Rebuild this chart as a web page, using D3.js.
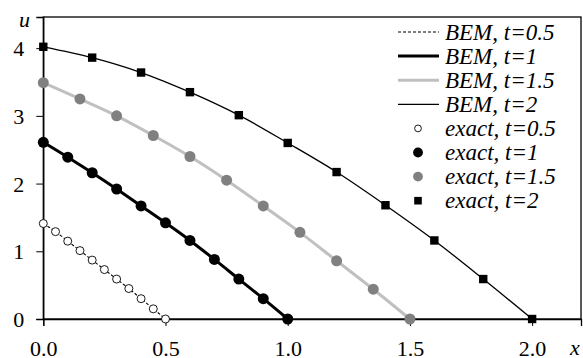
<!DOCTYPE html>
<html>
<head>
<meta charset="utf-8">
<script src="https://cdn.jsdelivr.net/npm/d3@7"></script>
<style>
  html, body { margin: 0; padding: 0; background: #fff; }
  svg { display: block; }
  svg text { font-family: Liberation Serif !important; }
</style>
</head>
<body>
<svg id="chart" width="583" height="358"></svg>
<script>
// exact solution samples
const x05 = [0, 0.05, 0.1, 0.15, 0.2, 0.25, 0.3, 0.35, 0.4, 0.45, 0.5];
const u05 = [1.41, 1.29, 1.15, 1.01, 0.87, 0.73, 0.59, 0.45, 0.30, 0.15, 0];
const x10 = [0, 0.1, 0.2, 0.3, 0.4, 0.5, 0.6, 0.7, 0.8, 0.9, 1.0];
const u10 = [2.61, 2.39, 2.16, 1.92, 1.67, 1.42, 1.16, 0.88, 0.59, 0.30, 0];
const x15 = [0, 0.15, 0.3, 0.45, 0.6, 0.75, 0.9, 1.05, 1.2, 1.35, 1.5];
const u15 = [3.49, 3.25, 3.00, 2.71, 2.40, 2.05, 1.67, 1.28, 0.86, 0.44, 0];
const x20 = [0, 0.2, 0.4, 0.6, 0.8, 1.0, 1.2, 1.4, 1.6, 1.8, 2.0];
const u20 = [4.02, 3.86, 3.64, 3.35, 3.01, 2.60, 2.17, 1.68, 1.16, 0.59, 0];

// BEM curves coincide with the exact values
const bemU05 = u05.slice(), bemU10 = u10.slice(), bemU15 = u15.slice(), bemU20 = u20.slice();

const xTicks = [0, 0.5, 1.0, 1.5, 2.0];
const yTicks = [0, 1, 2, 3, 4];

const zip = (xs, ys) => xs.map((v, i) => [v, ys[i]]);
const FONT = "Liberation Serif";

const svg = d3.select("#chart");
const plotL = 43.3, plotR = 581, plotT = 17, plotB = 319;

const x = d3.scaleLinear().domain([0, 2.2]).range([plotL, plotR]);
const y = d3.scaleLinear().domain([0, 4.46]).range([plotB, plotT]);

// frame
svg.append("rect")
  .attr("x", plotL).attr("y", plotT)
  .attr("width", plotR - plotL).attr("height", plotB - plotT)
  .attr("fill", "none").attr("stroke", "#000").attr("stroke-width", 1.3);

// axes
const xAxis = svg.append("g")
  .attr("transform", `translate(0,${plotB})`)
  .call(d3.axisBottom(x).tickValues(xTicks).tickFormat(d3.format(".1f")).tickSize(7).tickPadding(14));
const yAxis = svg.append("g")
  .attr("transform", `translate(${plotL},0)`)
  .call(d3.axisLeft(y).tickValues(yTicks).tickFormat(d3.format("d")).tickSize(7).tickPadding(12));
[xAxis, yAxis].forEach(g => {
  g.attr("font-family", FONT).attr("font-size", 22);
  g.select(".domain").attr("stroke-width", 1.3);
  g.selectAll(".tick line").attr("stroke-width", 1);
  g.selectAll("text").attr("fill", "#000").attr("font-family", FONT).attr("font-size", 22);
});
yAxis.selectAll("text").attr("dy", "0.35em");

function label(g, tx, ty, str, size) {
  return g.append("text").attr("x", tx).attr("y", ty)
    .attr("font-family", FONT).attr("font-size", size || 22).attr("font-style", "italic")
    .attr("fill", "#000").text(str);
}
label(svg, 19, 27, "u");
label(svg, 570, 355, "x");

const bem = [
  { pts: zip(x05, bemU05), color: "#000", width: 1.1, dash: "3,2", label: "BEM, t=0.5" },
  { pts: zip(x10, bemU10), color: "#000", width: 3, dash: null, label: "BEM, t=1" },
  { pts: zip(x15, bemU15), color: "#c0c0c0", width: 3, dash: null, label: "BEM, t=1.5" },
  { pts: zip(x20, bemU20), color: "#000", width: 1.3, dash: null, label: "BEM, t=2" }
];
const exact = [
  { pts: zip(x05, u05), shape: "circle", r: 4, fill: "#fff", stroke: "#000", label: "exact, t=0.5" },
  { pts: zip(x10, u10), shape: "circle", r: 5.5, fill: "#000", stroke: "none", label: "exact, t=1" },
  { pts: zip(x15, u15), shape: "circle", r: 5.5, fill: "#808080", stroke: "none", label: "exact, t=1.5" },
  { pts: zip(x20, u20), shape: "square", r: 4.2, fill: "#000", stroke: "none", label: "exact, t=2" }
];

const lineFn = d3.line().x(d => x(d[0])).y(d => y(d[1])).curve(d3.curveMonotoneX);
bem.forEach(s => {
  svg.append("path").attr("d", lineFn(s.pts))
    .attr("fill", "none").attr("stroke", s.color)
    .attr("stroke-width", s.width).attr("stroke-dasharray", s.dash);
});

function marker(g, s, cx, cy, r) {
  if (s.shape === "square") {
    g.append("rect").attr("x", cx - r).attr("y", cy - r)
      .attr("width", 2 * r).attr("height", 2 * r).attr("fill", s.fill);
  } else {
    g.append("circle").attr("cx", cx).attr("cy", cy).attr("r", r)
      .attr("fill", s.fill).attr("stroke", s.stroke).attr("stroke-width", 0.9);
  }
}
exact.forEach(s => {
  const g = svg.append("g");
  s.pts.forEach(p => marker(g, s, x(p[0]), y(p[1]), s.r));
});

// legend
const lg = svg.append("g");
const rowY = i => 32 + i * 24.1;
bem.forEach((s, i) => {
  lg.append("line").attr("x1", 398).attr("x2", 439).attr("y1", rowY(i)).attr("y2", rowY(i))
    .attr("stroke", s.color).attr("stroke-width", s.width).attr("stroke-dasharray", s.dash);
  label(lg, 445, rowY(i), s.label, 23).attr("dy", "0.33em");
});
exact.forEach((s, j) => {
  const i = j + 4;
  marker(lg, s, 418, rowY(i), s.shape === "square" ? 3.8 : s.r - 0.6);
  label(lg, 445, rowY(i), s.label, 23).attr("dy", "0.33em");
});
</script>
</body>
</html>
